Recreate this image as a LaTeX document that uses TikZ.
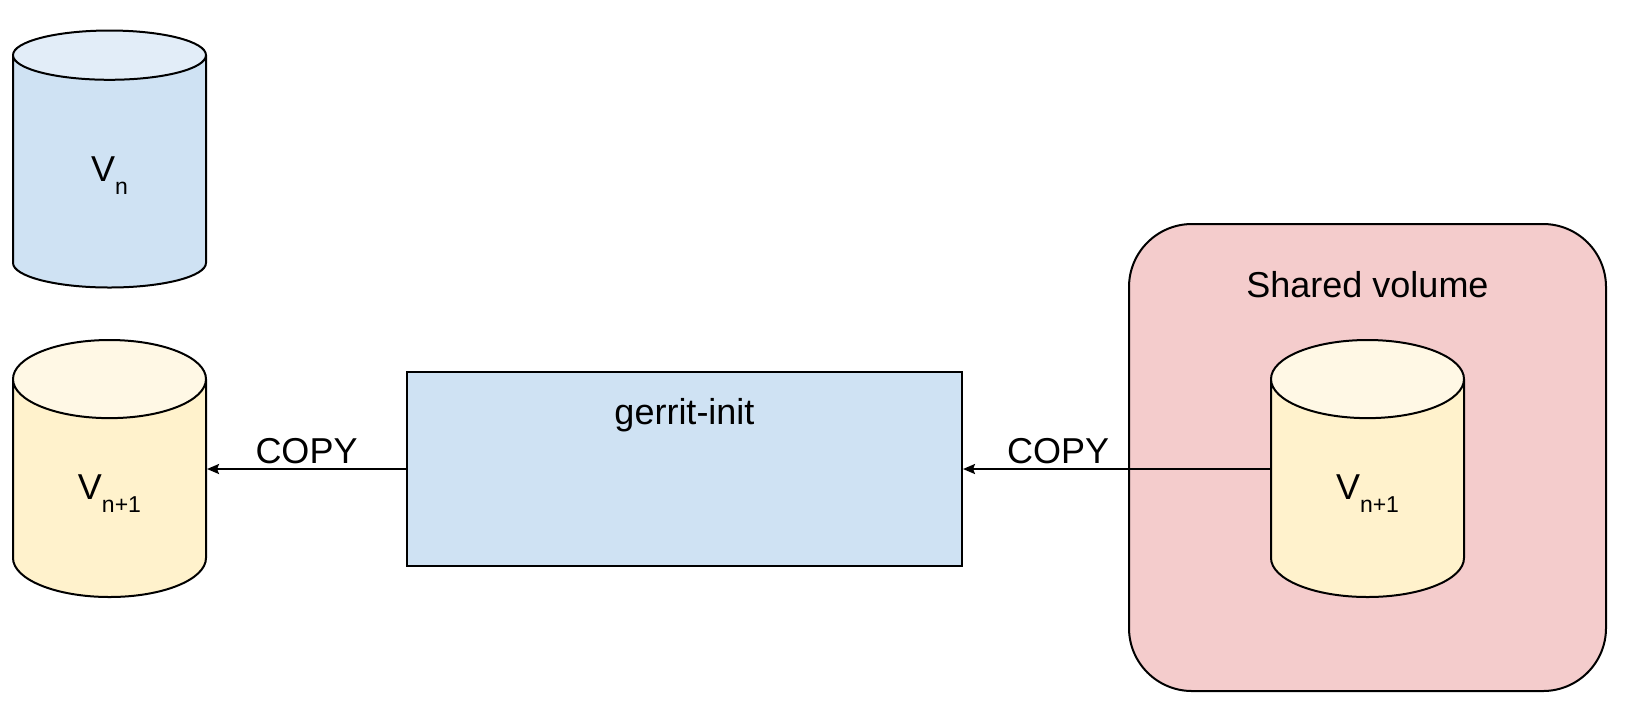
\documentclass[tikz,border=0pt]{standalone}
\usepackage{fontspec}
\setmainfont{Liberation Sans}
\usetikzlibrary{arrows.meta, positioning, shapes.geometric}
\definecolor{volblue}{HTML}{CFE2F3}
\definecolor{volbluetop}{HTML}{E2EDF8}
\definecolor{volyellow}{HTML}{FFF2CC}
\definecolor{volyellowtop}{HTML}{FFF8E5}
\definecolor{sharedred}{HTML}{F4CCCC}
\newcommand{\vname}[1]{V\raisebox{-6.5pt}{\fontsize{11.5}{13}\selectfont #1}}
\tikzset{
>={Stealth[length=6pt,width=5pt,inset=1pt]}, % small filled heads
every node/.style={font=\fontsize{18}{22}\selectfont, inner sep=2pt},
volume/.style={cylinder, shape border rotate=90, draw, line width=1pt,
  cylinder uses custom fill, aspect=1.1, anchor=shape center,
  minimum width=96.5pt, minimum height=128.5pt},
bluevol/.style={volume, cylinder body fill=volblue, cylinder end fill=volbluetop},
yellowvol/.style={volume, cylinder body fill=volyellow, cylinder end fill=volyellowtop},
initbox/.style={draw, line width=1pt, fill=volblue, minimum width=277.5pt, minimum height=97pt},
sharedbox/.style={draw, line width=1pt, fill=sharedred, rounded corners=31.5pt,
  minimum width=238.5pt, minimum height=233.5pt},
copyline/.style={->, line width=1pt},
}
\begin{document}
\begin{tikzpicture}[x=0.5pt, y=-0.5pt]
  \useasboundingbox (0,0) rectangle (1638,720);
  \node[bluevol] (vn) at (109.5,159) {\vname{n}};
  \node[yellowvol] (vnext) at (109.5,468.5) {\vname{n+1}};
  \node[initbox] (init) at (684.5,469) {};
  \node[below=22pt of init.north, anchor=center] (initlabel) {gerrit-init};
  \node[sharedbox] (shared) at (1367.5,457.5) {};
  \node[below=31pt of shared.north, anchor=center] (sharedlabel) {Shared volume};
  \node[yellowvol] (inner) at (1367.5,468.5) {\vname{n+1}};

  \draw[copyline] (init.west) -- node[above, pos=0.5]{COPY} (init.west -| vnext.east);
  \draw[copyline] (init.east -| inner.west) -- node[above, pos=0.69]{COPY} (init.east);
\end{tikzpicture}
\end{document}
